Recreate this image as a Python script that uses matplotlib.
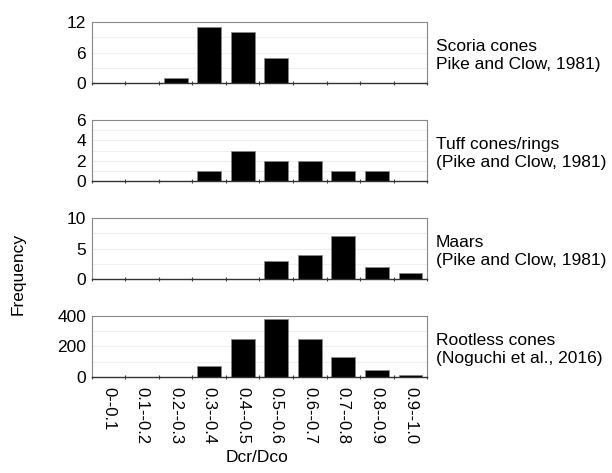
import numpy as np
import matplotlib
matplotlib.use('Agg')
import matplotlib.pyplot as plt

plt.rcParams['font.family'] = ['Liberation Sans', 'DejaVu Sans']

bins = ['0--0.1', '0.1--0.2', '0.2--0.3', '0.3--0.4', '0.4--0.5',
        '0.5--0.6', '0.6--0.7', '0.7--0.8', '0.8--0.9', '0.9--1.0']

scoria = [0, 0, 1, 11, 10, 5, 0, 0, 0, 0]
tuff = [0, 0, 0, 1, 3, 2, 2, 1, 1, 0]
maars = [0, 0, 0, 0, 0, 3, 4, 7, 2, 1]
rootless = [0, 0, 3, 75, 250, 380, 250, 130, 45, 12]

labels = ['Scoria cones\nPike and Clow, 1981)',
          'Tuff cones/rings\n(Pike and Clow, 1981)',
          'Maars\n(Pike and Clow, 1981)',
          'Rootless cones\n(Noguchi et al., 2016)']
series = [scoria, tuff, maars, rootless]
yticks = [[0, 6, 12], [0, 2, 4, 6], [0, 5, 10], [0, 200, 400]]
ygrid = [[3, 6, 9], [1, 2, 3, 4, 5], [2.5, 5, 7.5], [100, 200, 300]]

fig = plt.figure(figsize=(6.12, 4.73), dpi=100)
left, width, height = 0.150, 0.548, 0.129
bottoms = [0.8245, 0.6173, 0.410, 0.203]

x = np.arange(len(bins))
for i, (vals, lab) in enumerate(zip(series, labels)):
    ax = fig.add_axes([left, bottoms[i], width, height])
    for g in ygrid[i]:
        ax.axhline(g, color='#f0f0f0', lw=0.8, zorder=0)
    ax.bar(x, vals, width=0.71, color='black', edgecolor='#888888', lw=0.5, zorder=2)
    ax.set_xlim(-0.5, len(bins) - 0.5)
    ax.set_ylim(0, yticks[i][-1])
    ax.set_yticks(yticks[i])
    ax.tick_params(axis='y', length=0, labelsize=12.5, pad=4)
    ax.set_xticks(np.arange(len(bins) + 1) - 0.5)
    ax.tick_params(axis='x', direction='inout', length=3, width=0.8, color='#444444')
    if i < 3:
        ax.set_xticklabels([])
    else:
        ax.set_xticks(x, minor=True)
        ax.set_xticklabels([])
        ax.set_xticklabels(bins, minor=True, rotation=270, fontsize=12)
        ax.tick_params(axis='x', which='minor', length=0, pad=7)
    for s in ['top', 'left', 'right']:
        ax.spines[s].set_color('#888888')
        ax.spines[s].set_linewidth(0.8)
    ax.spines['bottom'].set_color('#333333')
    ax.spines['bottom'].set_linewidth(1.0)
    ax.text(1.025, 0.45, lab, transform=ax.transAxes, ha='left', va='center',
            fontsize=12.5, linespacing=1.3)

fig.text(0.03, 0.42, 'Frequency', rotation=90, ha='center', va='center', fontsize=12.5)
fig.text(0.42, 0.032, 'Dcr/Dco', ha='center', va='center', fontsize=12.5)

fig.savefig('out.png', dpi=100)
